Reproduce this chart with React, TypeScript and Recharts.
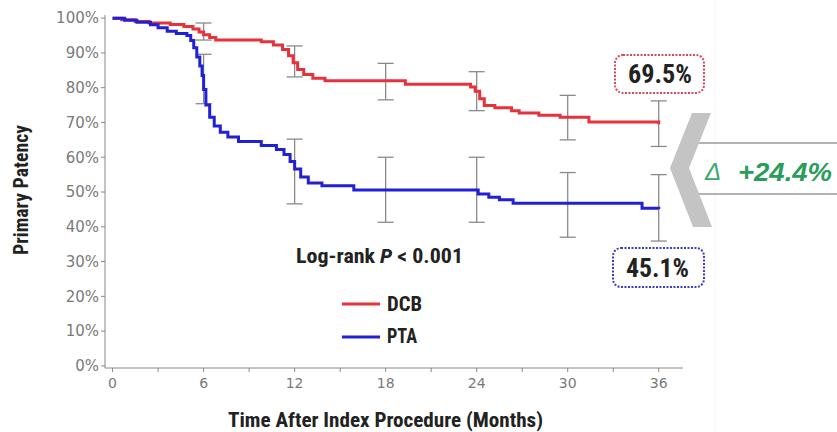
import React from 'react';
import { ComposedChart, Line, Scatter, ErrorBar, XAxis, YAxis } from 'recharts';

// Kaplan-Meier step points (months, % patency)
const dcbMonths = [0, 0.6, 1.5, 2.4, 3.8, 4.7, 5.3, 5.7, 6.0, 6.4, 6.8, 9.8, 10.6, 11.2, 11.6, 11.9, 12.2, 12.6, 13.2, 14.0, 19.3, 23.6, 23.9, 24.2, 24.5, 25.2, 26.3, 26.8, 28.1, 29.5, 31.4, 36];
const dcbPatency = [100, 99.5, 99.0, 98.6, 98.2, 97.6, 96.9, 96.0, 95.2, 94.4, 93.7, 93.2, 92.3, 91.0, 89.2, 87.2, 85.2, 83.8, 82.7, 82.0, 81.0, 80.2, 79.0, 76.8, 74.9, 74.2, 73.4, 72.7, 72.1, 71.5, 70.1, 69.5];

const ptaMonths = [0, 0.8, 1.6, 2.5, 3.0, 3.6, 4.2, 4.9, 5.15, 5.35, 5.55, 5.75, 5.9, 6.0, 6.15, 6.4, 6.7, 7.1, 7.6, 8.3, 9.8, 10.8, 11.3, 11.7, 12.0, 12.4, 12.9, 13.8, 15.9, 24.1, 24.8, 25.5, 26.4, 34.9, 36];
const ptaPatency = [100, 99.4, 98.8, 98.1, 97.2, 96.2, 95.6, 95.0, 93.6, 91.5, 88.8, 86.2, 83.5, 79.5, 75.0, 71.5, 69.0, 67.2, 65.8, 64.5, 63.4, 62.2, 60.8, 58.8, 56.6, 54.3, 52.6, 51.8, 50.6, 49.4, 48.5, 47.8, 46.8, 45.3, 45.1];

// 95% CI at follow-up visits
const ciMonths = [6, 12, 18, 24, 30, 36];
const dcbAtVisit = [95.2, 85.2, 81.0, 79.0, 71.5, 69.5];
const dcbLow = [93.7, 83.1, 76.5, 73.4, 65.0, 63.1];
const dcbHigh = [98.6, 92.0, 87.0, 84.6, 77.8, 76.2];
const ptaAtVisit = [79.5, 56.6, 50.6, 50.6, 46.8, 45.1];
const ptaLow = [75.4, 46.6, 41.3, 41.3, 37.0, 35.9];
const ptaHigh = [89.6, 65.2, 60.0, 60.0, 55.6, 55.0];

const xTicks = [0, 3, 6, 9, 12, 15, 18, 21, 24, 27, 30, 33, 36];
const yTicks = [0, 10, 20, 30, 40, 50, 60, 70, 80, 90, 100];

const dcbData = dcbMonths.map((m, i) => ({ m, p: dcbPatency[i] }));
const ptaData = ptaMonths.map((m, i) => ({ m, p: ptaPatency[i] }));
const dcbCi = ciMonths.map((m, i) => ({ m, p: dcbAtVisit[i], err: [dcbAtVisit[i] - dcbLow[i], dcbHigh[i] - dcbAtVisit[i]] }));
const ptaCi = ciMonths.map((m, i) => ({ m, p: ptaAtVisit[i], err: [ptaAtVisit[i] - ptaLow[i], ptaHigh[i] - ptaAtVisit[i]] }));

const RED = '#e5323c';
const BLUE = '#2020d6';
const NARROW = "'Liberation Sans Narrow', 'Roboto Condensed', 'DejaVu Sans Condensed', 'Liberation Sans', sans-serif";
const xTickStyle = { fill: '#7a7a7a', fontSize: 14, fontFamily: 'DejaVu Sans' };
const yTickStyle = { fill: '#7a7a7a', fontSize: 15, fontFamily: 'DejaVu Sans' };

export default function App() {
  return (
    <div style={{ position: 'absolute', left: 0, top: 0, width: 837, height: 432, background: '#fff' }}>
      <ComposedChart width={837} height={432} margin={{ top: 15, right: 154, bottom: 0, left: 0 }}>
        <XAxis
          dataKey="m"
          type="number"
          domain={[-0.5, 37.6]}
          allowDataOverflow
          ticks={xTicks}
          interval={0}
          tickFormatter={(v) => (v % 6 === 0 ? String(v) : '')}
          height={64}
          stroke="#888"
          tick={xTickStyle}
          tickSize={4}
          tickMargin={6}
        />
        <YAxis
          type="number"
          domain={[-0.6, 100.9]}
          allowDataOverflow
          ticks={yTicks}
          interval={0}
          tickFormatter={(v) => `${v}%`}
          width={105}
          stroke="#888"
          tick={yTickStyle}
          tickSize={4}
          tickMargin={2}
        />
        <Scatter data={dcbCi} dataKey="p" shape={() => <g />} isAnimationActive={false}>
          <ErrorBar dataKey="err" direction="y" width={8} stroke="#8a8a8a" strokeWidth={1.3} />
        </Scatter>
        <Scatter data={ptaCi} dataKey="p" shape={() => <g />} isAnimationActive={false}>
          <ErrorBar dataKey="err" direction="y" width={8} stroke="#8a8a8a" strokeWidth={1.3} />
        </Scatter>
        <Line data={dcbData} dataKey="p" type="stepAfter" stroke={RED} strokeWidth={3} dot={false} isAnimationActive={false} />
        <Line data={ptaData} dataKey="p" type="stepAfter" stroke={BLUE} strokeWidth={3} dot={false} isAnimationActive={false} />
      </ComposedChart>

      <svg width={837} height={432} style={{ position: 'absolute', left: 0, top: 0, pointerEvents: 'none' }}>
        <line x1={715} y1={0} x2={715} y2={432} stroke="#f4f4f4" strokeWidth={1} />
        <text transform="translate(28,190) rotate(-90)" textAnchor="middle" fontFamily={NARROW} fontWeight="bold" fontSize={20} fill="#222" textLength={130} lengthAdjust="spacingAndGlyphs">
          Primary Patency
        </text>
        <text x={385.5} y={427} textAnchor="middle" fontFamily={NARROW} fontWeight="bold" fontSize={20} fill="#222" textLength={315} lengthAdjust="spacingAndGlyphs">
          Time After Index Procedure (Months)
        </text>
        <text x={296} y={262.5} fontFamily={NARROW} fontWeight="bold" fontSize={20} fill="#222" textLength={167} lengthAdjust="spacingAndGlyphs">
          Log-rank <tspan fontStyle="italic">P</tspan>{' < 0.001'}
        </text>

        <line x1={342} y1={304} x2={380} y2={304} stroke={RED} strokeWidth={3} />
        <text x={387} y={311} fontFamily={NARROW} fontWeight="bold" fontSize={20} fill="#222" textLength={35} lengthAdjust="spacingAndGlyphs">DCB</text>
        <line x1={342} y1={337} x2={380} y2={337} stroke={BLUE} strokeWidth={3} />
        <text x={387} y={343} fontFamily={NARROW} fontWeight="bold" fontSize={20} fill="#222" textLength={30} lengthAdjust="spacingAndGlyphs">PTA</text>

        <rect x={615} y={55} width={89} height={38} rx={8} fill="#fff" stroke="#d9485a" strokeWidth={2} strokeDasharray="2 1.5" />
        <text x={628} y={83} fontFamily={NARROW} fontWeight="bold" fontSize={25} fill="#222" textLength={64} lengthAdjust="spacingAndGlyphs">69.5%</text>
        <rect x={613} y={248} width={91} height={39} rx={8} fill="#fff" stroke="#3a3ad0" strokeWidth={2} strokeDasharray="2 1.5" />
        <text x={626} y={277} fontFamily={NARROW} fontWeight="bold" fontSize={25} fill="#222" textLength={63} lengthAdjust="spacingAndGlyphs">45.1%</text>

        <line x1={698} y1={143} x2={837} y2={143} stroke="#9a9a9a" strokeWidth={1.5} />
        <line x1={698} y1={194} x2={837} y2={194} stroke="#9a9a9a" strokeWidth={1.5} />
        <polygon points="692,113 711,113 689,168 712,227 693,227 670,168" fill="#c4c4c4" />
        <text x={705} y={180} fontFamily="'Liberation Sans', sans-serif" fontStyle="italic" fontSize={24} fill="#3aa86b">Δ</text>
        <text x={738} y={181} fontFamily="'Liberation Sans', sans-serif" fontStyle="italic" fontWeight="bold" fontSize={26} fill="#2a9d5c" textLength={94} lengthAdjust="spacingAndGlyphs">+24.4%</text>
      </svg>
    </div>
  );
}
